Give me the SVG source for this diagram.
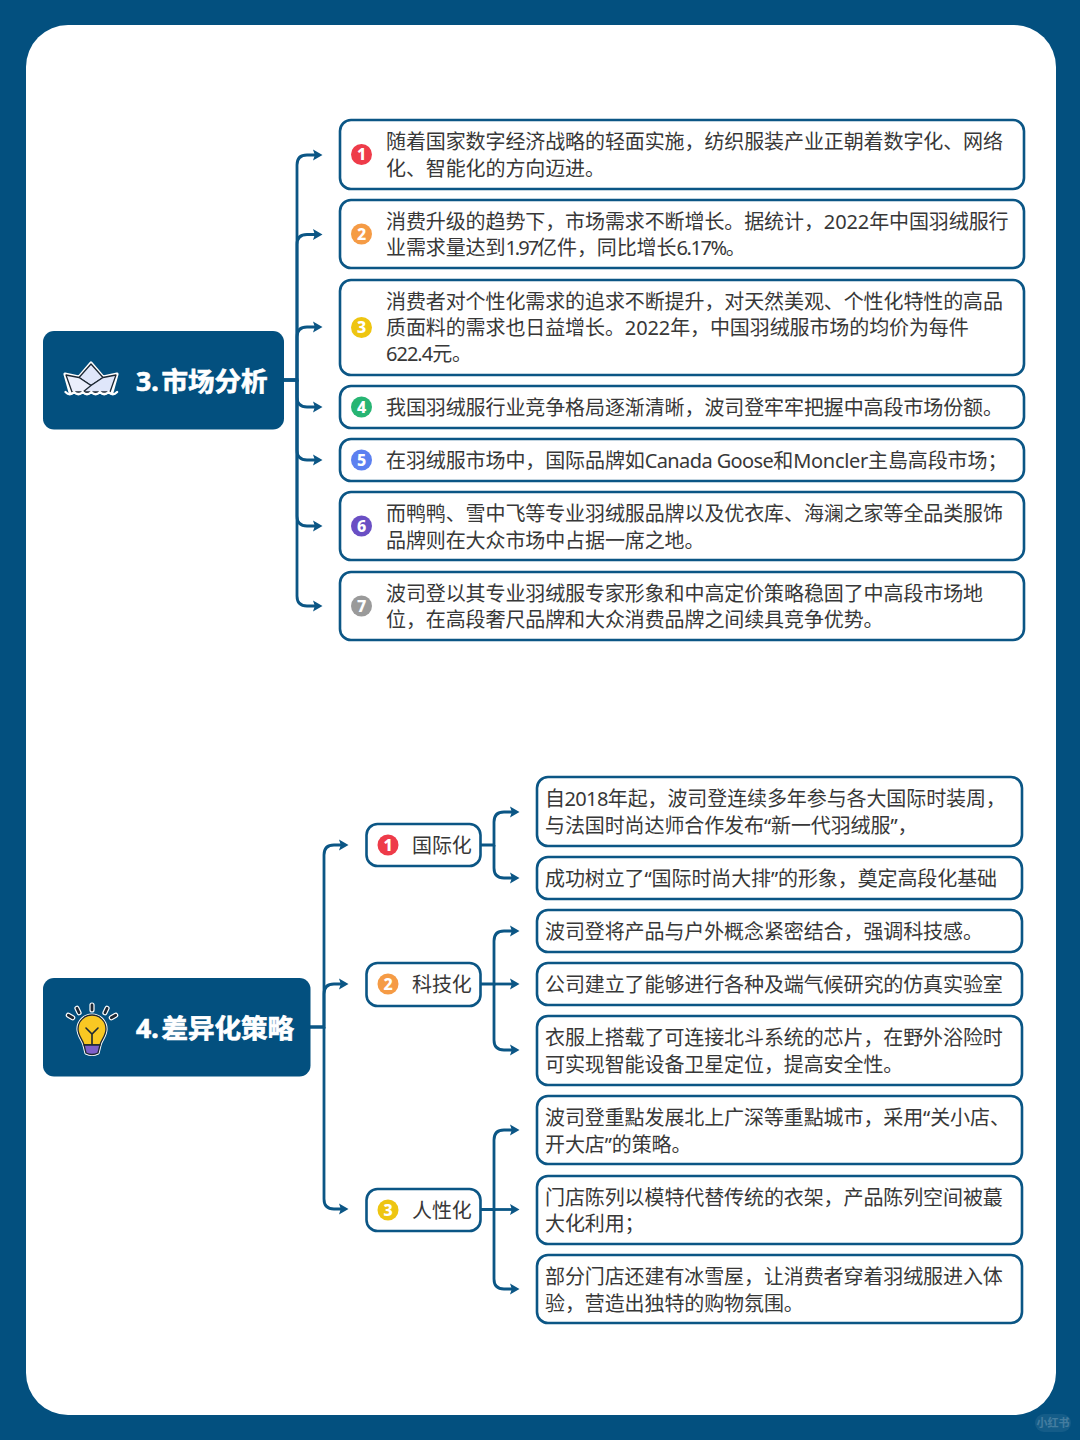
<svg xmlns="http://www.w3.org/2000/svg" width="1080" height="1440" viewBox="0 0 1080 1440">
<style>
text{font-family:"Noto Sans","Noto Sans CJK SC",sans-serif}
.t{font-size:20px;fill:#383838;letter-spacing:-.1px}
.box{fill:#fff;stroke:#0b5685;stroke-width:2.6}
.root{fill:#03507f}
.title{font-size:26.500px;font-weight:700;fill:#fff;stroke:#fff;stroke-width:.7}
.n{font-size:16px;font-weight:800;fill:#fff;text-anchor:middle}
.c{fill:none;stroke:#0b5685;stroke-width:2.8;marker-end:url(#a)}
.ic{stroke:#1c2733;stroke-width:1.3;stroke-linejoin:round}
</style>
<defs>
<marker id="a" markerUnits="userSpaceOnUse" markerWidth="12" markerHeight="12" viewBox="-1 -6 12 12" refX="3" refY="0" orient="auto"><path d="M0-5.400L9.500 0L0 5.400L1.800 0Z" fill="#0b5685"/></marker>
</defs>
<rect width="1080" height="1440" fill="#03507f"/>
<rect x="26" y="25" width="1030" height="1390" rx="42" fill="#fff"/>
<g id="watermark"><rect x="1035" y="1414" width="36" height="18" rx="9" fill="#fff" opacity=".07"/><text x="1053" y="1427" font-size="11" font-weight="700" fill="#fff" opacity=".2" text-anchor="middle">小红书</text></g>

<g id="connectors">
<path class="c" d="M284 380H297V165Q297 155 307 155H316"/>
<path class="c" d="M284 380H297V244.500Q297 234.500 307 234.500H316"/>
<path class="c" d="M284 380H297V337Q297 327 307 327H316"/>
<path class="c" d="M284 380H297V397Q297 407 307 407H316"/>
<path class="c" d="M297 380V450Q297 460 307 460H316"/>
<path class="c" d="M297 380V516Q297 526 307 526H316"/>
<path class="c" d="M297 380V596Q297 606 307 606H316"/>
<path class="c" d="M310 1027H324V855Q324 845 334 845H342"/>
<path class="c" d="M310 1027H324V994Q324 984 334 984H342"/>
<path class="c" d="M324 1027V1199Q324 1209 334 1209H342"/>
<path class="c" d="M481 845H494V822Q494 812 504 812H513"/>
<path class="c" d="M494 845V868Q494 878 504 878H513"/>
<path class="c" d="M481 984H494V941Q494 931 504 931H513"/>
<path class="c" d="M494 984H513"/>
<path class="c" d="M494 984V1040Q494 1050 504 1050H513"/>
<path class="c" d="M481 1209.500H494V1140Q494 1130 504 1130H513"/>
<path class="c" d="M494 1209.500H513"/>
<path class="c" d="M494 1209.500V1279Q494 1289 504 1289H513"/>
</g>

<g id="root3">
<rect class="root" x="43" y="331" width="241" height="98.500" rx="11"/>
<g id="boat-icon">
<path d="M91 363L103 377L117 374L112 392L70 392L65 374L79 377Z" fill="none" stroke="#fff" stroke-width="3.200" stroke-linejoin="round"/>
<path class="ic" d="M91 364L103 377.500L91 385.500L79 377.500Z" fill="#dfe6fa"/>
<path class="ic" d="M66 375L79 377.500L91 385.500L99 392H72Z" fill="#eaeefc"/>
<path class="ic" d="M116 375L103 377.500L91 385.500L83 392H110Z" fill="#dfe6fa"/>
<path d="M65.500 392q4.300 4.500 8.600 0q4.300 4.500 8.600 0q4.300 4.500 8.600 0q4.300 4.500 8.600 0q4.300 4.500 8.600 0q4.300 4.500 8.600 0" fill="none" stroke="#fff" stroke-width="2.400" stroke-linecap="round"/>
</g>
<text class="title" x="136" y="391">3.<tspan dx="3">市场分析</tspan></text>
</g>

<g id="item-3-1"><rect class="box" x="340" y="120" width="684" height="69" rx="11"/><circle cx="361.500" cy="154.500" r="10.500" fill="#ee3b49"/><text class="n" x="361.500" y="160">1</text>
<text class="t" x="386" y="149">随着国家数字经济战略的轻面实施，纺织服装产业正朝着数字化、网络</text><text class="t" x="386" y="176">化、智能化的方向迈进。</text></g>
<g id="item-3-2"><rect class="box" x="340" y="200" width="684" height="68" rx="11"/><circle cx="361.500" cy="234" r="10.500" fill="#f59b45"/><text class="n" x="361.500" y="239.500">2</text>
<text class="t" x="386" y="228.500">消费升级的趋势下，市场需求不断增长。据统计，2022年中国羽绒服行</text><text class="t" x="386" y="255">业需求量达到<tspan letter-spacing="-2">1.97</tspan>亿件，同比增长<tspan letter-spacing="-1.400">6.17%</tspan>。</text></g>
<g id="item-3-3"><rect class="box" x="340" y="280" width="684" height="95" rx="11"/><circle cx="361.500" cy="327.500" r="10.500" fill="#eec511"/><text class="n" x="361.500" y="333">3</text>
<text class="t" x="386" y="308.500">消费者对个性化需求的追求不断提升，对天然美观、个性化特性的高品</text><text class="t" x="386" y="334.500">质面料的需求也日益增长。2022年，中国羽绒服市场的均价为每件</text><text class="t" x="386" y="361"><tspan letter-spacing="-1">622.4</tspan>元。</text></g>
<g id="item-3-4"><rect class="box" x="340" y="386" width="684" height="42" rx="11"/><circle cx="361.500" cy="407" r="10.500" fill="#27b573"/><text class="n" x="361.500" y="412.500">4</text>
<text class="t" x="386" y="415">我国羽绒服行业竞争格局逐渐清晰，波司登牢牢把握中高段市场份额。</text></g>
<g id="item-3-5"><rect class="box" x="340" y="439" width="684" height="42" rx="11"/><circle cx="361.500" cy="460" r="10.500" fill="#5c80f0"/><text class="n" x="361.500" y="465.500">5</text>
<text class="t" x="386" y="468">在羽绒服市场中，国际品牌如<tspan letter-spacing="-.6">Canada Goose</tspan>和<tspan letter-spacing="-.3">Moncler</tspan>主島高段市场；</text></g>
<g id="item-3-6"><rect class="box" x="340" y="492" width="684" height="68" rx="11"/><circle cx="361.500" cy="526" r="10.500" fill="#6a4fc4"/><text class="n" x="361.500" y="531.500">6</text>
<text class="t" x="386" y="521">而鸭鸭、雪中飞等专业羽绒服品牌以及优衣库、海澜之家等全品类服饰</text><text class="t" x="386" y="548">品牌则在大众市场中占据一席之地。</text></g>
<g id="item-3-7"><rect class="box" x="340" y="572" width="684" height="68" rx="11"/><circle cx="361.500" cy="606" r="10.500" fill="#9a9a9a"/><text class="n" x="361.500" y="611.500">7</text>
<text class="t" x="386" y="601">波司登以其专业羽绒服专家形象和中高定价策略稳固了中高段市场地</text><text class="t" x="386" y="627">位，在高段奢尺品牌和大众消费品牌之间续具竞争优势。</text></g>

<g id="root4">
<rect class="root" x="43" y="978" width="267.500" height="98.500" rx="11"/>
<g id="bulb-icon" stroke-linecap="round">
<g fill="#1c2733" stroke="#fff" stroke-width="1.200">
<rect x="90" y="1003" width="4" height="9" rx="2"/>
<rect x="76" y="1006" width="4" height="9" rx="2" transform="rotate(-25 78 1010.500)"/>
<rect x="104" y="1006" width="4" height="9" rx="2" transform="rotate(25 106 1010.500)"/>
<rect x="68.500" y="1012" width="4" height="9" rx="2" transform="rotate(-60 70.500 1016.500)"/>
<rect x="111.500" y="1012" width="4" height="9" rx="2" transform="rotate(60 113.500 1016.500)"/>
</g>
<path d="M84 1045C83 1040 78 1036 78 1029A14 14 0 0 1 106 1029C106 1036 101 1040 100 1045L98 1053Q92 1056 86 1053Z" fill="none" stroke="#fff" stroke-width="3.200" stroke-linejoin="round"/>
<path class="ic" d="M84 1045C83 1040 78 1036 78 1029A14 14 0 0 1 106 1029C106 1036 101 1040 100 1045Z" fill="#f9c823"/>
<path class="ic" d="M84 1045H100L98 1053Q92 1056 86 1053Z" fill="#7d5fc9"/>
<path d="M92 1044V1034M86 1028L92 1034L98 1028" fill="none" stroke="#1c2733" stroke-width="1.600"/>
</g>
<text class="title" x="136" y="1038">4.<tspan dx="3">差异化策略</tspan></text>
</g>

<g id="sub-1"><rect class="box" x="366.500" y="824" width="114" height="42" rx="11"/><circle cx="388" cy="845" r="10.500" fill="#ee3b49"/><text class="n" x="388" y="850.500">1</text><text class="t" x="412" y="853">国际化</text></g>
<g id="sub-2"><rect class="box" x="366.500" y="963" width="114" height="43" rx="11"/><circle cx="388" cy="984" r="10.500" fill="#f59b45"/><text class="n" x="388" y="989.500">2</text><text class="t" x="412" y="992">科技化</text></g>
<g id="sub-3"><rect class="box" x="366.500" y="1189" width="114" height="42" rx="11"/><circle cx="388" cy="1210" r="10.500" fill="#eec511"/><text class="n" x="388" y="1215.500">3</text><text class="t" x="412" y="1218">人性化</text></g>

<g id="leaf-1"><rect class="box" x="537" y="777" width="485" height="69" rx="11"/><text class="t" x="545" y="806"><tspan letter-spacing="-.6">自2018</tspan>年起，波司登连续多年参与各大国际时装周，</text><text class="t" x="545" y="833">与法国时尚达师合作发布“新一代羽绒服”，</text></g>
<g id="leaf-2"><rect class="box" x="537" y="857" width="485" height="42" rx="11"/><text class="t" x="545" y="886">成功树立了“国际时尚大排”的形象，奠定高段化基础</text></g>
<g id="leaf-3"><rect class="box" x="537" y="910" width="485" height="42" rx="11"/><text class="t" x="545" y="939">波司登将产品与户外概念紧密结合，强调科技感。</text></g>
<g id="leaf-4"><rect class="box" x="537" y="963" width="485" height="42" rx="11"/><text class="t" x="545" y="992">公司建立了能够进行各种及端气候研究的仿真实验室</text></g>
<g id="leaf-5"><rect class="box" x="537" y="1016" width="485" height="69" rx="11"/><text class="t" x="545" y="1045">衣服上搭载了可连接北斗系统的芯片，在野外浴险时</text><text class="t" x="545" y="1072">可实现智能设备卫星定位，提高安全性。</text></g>
<g id="leaf-6"><rect class="box" x="537" y="1096" width="485" height="68" rx="11"/><text class="t" x="545" y="1125">波司登重點发展北上广深等重點城市，采用“关小店、</text><text class="t" x="545" y="1152">开大店”的策略。</text></g>
<g id="leaf-7"><rect class="box" x="537" y="1176" width="485" height="68" rx="11"/><text class="t" x="545" y="1205">门店陈列以模特代替传统的衣架，产品陈列空间被蕞</text><text class="t" x="545" y="1231">大化利用；</text></g>
<g id="leaf-8"><rect class="box" x="537" y="1255" width="485" height="68" rx="11"/><text class="t" x="545" y="1284">部分门店还建有冰雪屋，让消费者穿着羽绒服进入体</text><text class="t" x="545" y="1311">验，营造出独特的购物氛围。</text></g>
</svg>
